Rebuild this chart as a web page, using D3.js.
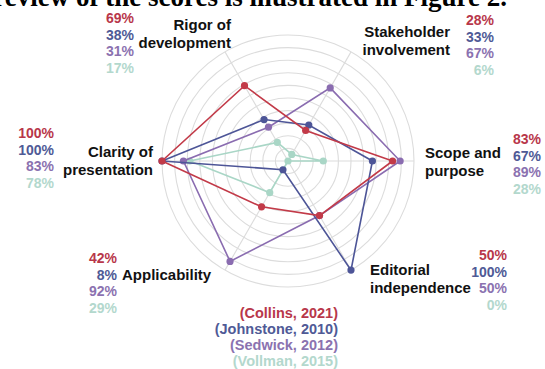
<!DOCTYPE html>
<html>
<head>
<meta charset="utf-8">
<script src="https://cdn.jsdelivr.net/npm/d3@7"></script>
<style>
  body { margin: 0; background: #fff; }
  text { font-family: "Liberation Sans", Arial, sans-serif; font-weight: bold; }
</style>
</head>
<body>
<div id="chart"></div>
<script>
var width = 545,
    height = 369;

// axes, clockwise from the right
var axes = ['Scope and purpose', 'Editorial independence', 'Applicability',
            'Clarity of presentation', 'Rigor of development', 'Stakeholder involvement'];

var studies = ['(Collins, 2021)', '(Johnstone, 2010)', '(Sedwick, 2012)', '(Vollman, 2015)'];

var collins   = [83, 50, 42, 100, 69, 28];
var johnstone = [67, 100, 8, 100, 38, 33];
var sedwick   = [89, 50, 92, 83, 31, 67];
var vollman   = [28, 0, 29, 78, 17, 6];

var colors = ['#c23a48', '#4d5597', '#8a6cb0', '#a9d6c6'];
var textColors = ['#b8374a', '#4f5a96', '#8b72b0', '#b3d8cd'];

var series = [collins, johnstone, sedwick, vollman];

var cx = 288, cy = 161, R = 126;

var svg = d3.select('#chart').append('svg')
    .attr('width', width)
    .attr('height', height);

// cropped caption line from the page above
svg.append('text')
    .attr('x', 507)
    .attr('y', 6)
    .attr('text-anchor', 'end')
    .style('font-family', '"Liberation Serif", "Times New Roman", serif')
    .style('font-size', '27px')
    .text('review of the scores is illustrated in Figure 2.');

var g = svg.append('g')
    .attr('transform', 'translate(' + cx + ',' + cy + ')');

var rScale = d3.scaleLinear().domain([0, 100]).range([0, R]);

var angle = function(i) { return i * Math.PI / 3 + Math.PI / 2; };  // radial line angles (0 = up)

// grid rings
g.selectAll('.ring')
    .data(d3.range(10, 101, 10))
    .enter().append('circle')
    .attr('class', 'ring')
    .attr('r', function(d) { return rScale(d); })
    .attr('fill', 'none')
    .attr('stroke', '#dcdcdc')
    .attr('stroke-width', 1.1);

// spokes
g.selectAll('.spoke')
    .data(axes)
    .enter().append('line')
    .attr('class', 'spoke')
    .attr('x1', 0).attr('y1', 0)
    .attr('x2', function(d, i) { return d3.pointRadial(angle(i), R)[0]; })
    .attr('y2', function(d, i) { return d3.pointRadial(angle(i), R)[1]; })
    .attr('stroke', '#dcdcdc')
    .attr('stroke-width', 1.1);

var line = d3.lineRadial()
    .angle(function(d, i) { return angle(i); })
    .radius(function(d) { return rScale(d); })
    .curve(d3.curveLinearClosed);

// draw from last series to first so Collins sits on top
for (var s = series.length - 1; s >= 0; s--) {
    g.append('path')
        .datum(series[s])
        .attr('d', line)
        .attr('fill', 'none')
        .attr('stroke', colors[s])
        .attr('stroke-width', 1.6);

    g.selectAll('.dot' + s)
        .data(series[s])
        .enter().append('circle')
        .attr('class', 'dot' + s)
        .attr('cx', function(d, i) { return d3.pointRadial(angle(i), rScale(d))[0]; })
        .attr('cy', function(d, i) { return d3.pointRadial(angle(i), rScale(d))[1]; })
        .attr('r', 3.6)
        .attr('fill', colors[s]);
}

// axis label layout: name lines + value column
var labelLayout = [
    { lines: ['Scope and', 'purpose'], lx: 425, anchor: 'start', ly: 158, vx: 541, vy: 144 },
    { lines: ['Editorial', 'independence'], lx: 370, anchor: 'start', ly: 275, vx: 507, vy: 260 },
    { lines: ['Applicability'], lx: 122, anchor: 'start', ly: 280, vx: 117, vy: 263 },
    { lines: ['Clarity of', 'presentation'], lx: 153, anchor: 'end', ly: 157, vx: 54, vy: 138 },
    { lines: ['Rigor of', 'development'], lx: 231, anchor: 'end', ly: 30, vx: 134, vy: 23 },
    { lines: ['Stakeholder', 'involvement'], lx: 450, anchor: 'end', ly: 37, vx: 494, vy: 25 }
];

labelLayout.forEach(function(L, i) {
    L.lines.forEach(function(t, k) {
        svg.append('text')
            .attr('x', L.lx)
            .attr('y', L.ly + k * 17.5)
            .attr('text-anchor', L.anchor)
            .attr('fill', '#111')
            .style('font-size', '15px')
            .text(t);
    });
    series.forEach(function(vals, s) {
        svg.append('text')
            .attr('x', L.vx)
            .attr('y', L.vy + s * 16.5)
            .attr('text-anchor', 'end')
            .attr('fill', textColors[s])
            .style('font-size', '14px')
            .text(vals[i] + '%');
    });
});

// legend
svg.selectAll('.legend')
    .data(studies)
    .enter().append('text')
    .attr('class', 'legend')
    .attr('x', 338)
    .attr('y', function(d, i) { return 318 + i * 16; })
    .attr('text-anchor', 'end')
    .attr('fill', function(d, i) { return textColors[i]; })
    .style('font-size', '14.5px')
    .text(function(d) { return d; });
</script>
</body>
</html>
